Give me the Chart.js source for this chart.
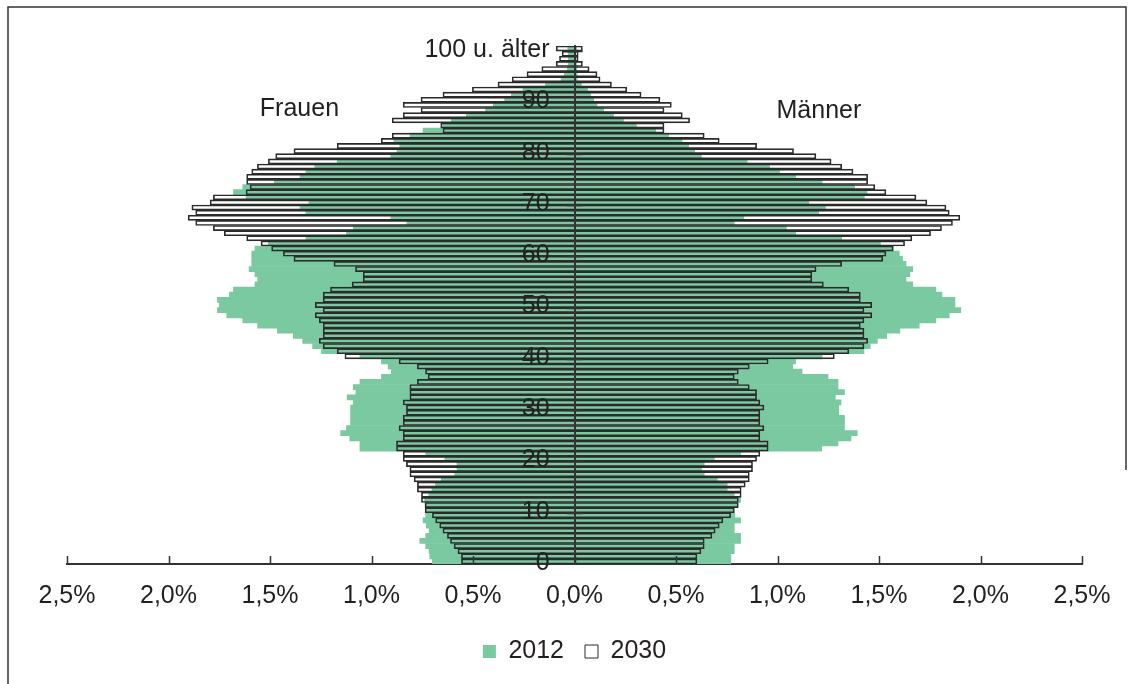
<!DOCTYPE html>
<html>
<head>
<meta charset="utf-8">
<script src="https://cdn.jsdelivr.net/npm/chart.js@4.4.1/dist/chart.umd.min.js"></script>
<style>
  html, body { margin: 0; padding: 0; background: #fff; }
  canvas { display: block; }
</style>
</head>
<body>
<canvas id="pyramid" width="1134" height="684"></canvas>
<script>
// age groups 0 .. 99 plus the open top group
var ageLabels = [];
for (var a = 0; a < 100; a++) ageLabels.push(String(a));
ageLabels.push('100 u. älter');

var xTicks = [-2.5, -2, -1.5, -1, -0.5, 0, 0.5, 1, 1.5, 2, 2.5];
var sideLabels = ['Frauen', 'Männer'];

// share of total population in %, index = age
var women2012 = [
  0.700, 0.713, 0.716, 0.733, 0.762, 0.733, 0.716, 0.730, 0.746, 0.733,
  0.730, 0.736, 0.738, 0.718, 0.702, 0.685, 0.656, 0.590, 0.579, 0.579,
  0.639, 0.733, 1.057, 1.057, 1.107, 1.152, 1.123, 1.103, 1.103, 1.103,
  1.103, 1.090, 1.120, 1.077, 1.090, 1.057, 0.951, 0.902, 0.918, 0.951,
  1.057, 1.246, 1.290, 1.339, 1.385, 1.464, 1.561, 1.634, 1.713, 1.759,
  1.750, 1.759, 1.700, 1.680, 1.574, 1.561, 1.574, 1.603, 1.590, 1.590,
  1.590, 1.574, 1.508, 1.323, 1.123, 1.090, 0.826, 0.905, 1.323, 1.352,
  1.308, 1.618, 1.680, 1.634, 1.479, 1.352, 1.323, 1.279, 1.169, 0.905,
  0.874, 0.861, 0.889, 0.811, 0.746, 0.650, 0.607, 0.533, 0.438, 0.400,
  0.344, 0.311, 0.254, 0.143, 0.066, 0.050, 0.035, 0.030, 0.030, 0.030,
  0.033
];
var women2030 = [
  0.557, 0.557, 0.574, 0.593, 0.611, 0.626, 0.648, 0.664, 0.684, 0.700,
  0.736, 0.736, 0.754, 0.754, 0.774, 0.774, 0.790, 0.811, 0.811, 0.828,
  0.844, 0.844, 0.877, 0.877, 0.844, 0.844, 0.864, 0.844, 0.844, 0.828,
  0.828, 0.844, 0.811, 0.811, 0.811, 0.774, 0.721, 0.734, 0.774, 0.864,
  1.131, 1.169, 1.238, 1.257, 1.238, 1.238, 1.238, 1.257, 1.277, 1.238,
  1.277, 1.238, 1.238, 1.202, 1.095, 1.041, 1.041, 1.079, 1.185, 1.382,
  1.434, 1.492, 1.544, 1.615, 1.725, 1.779, 1.866, 1.903, 1.866, 1.885,
  1.795, 1.779, 1.618, 1.598, 1.615, 1.615, 1.590, 1.562, 1.508, 1.472,
  1.382, 1.169, 0.952, 0.898, 0.648, 0.659, 0.898, 0.844, 0.756, 0.844,
  0.756, 0.648, 0.503, 0.377, 0.307, 0.234, 0.161, 0.090, 0.074, 0.061,
  0.090
];
var men2012 = [
  0.770, 0.770, 0.787, 0.787, 0.818, 0.818, 0.787, 0.787, 0.818, 0.790,
  0.787, 0.803, 0.818, 0.787, 0.752, 0.752, 0.703, 0.639, 0.626, 0.639,
  0.689, 0.818, 1.218, 1.298, 1.362, 1.393, 1.330, 1.330, 1.330, 1.302,
  1.302, 1.313, 1.285, 1.330, 1.298, 1.298, 1.249, 1.121, 1.075, 1.089,
  1.220, 1.426, 1.457, 1.492, 1.538, 1.603, 1.698, 1.780, 1.846, 1.903,
  1.874, 1.874, 1.810, 1.780, 1.666, 1.633, 1.652, 1.666, 1.633, 1.616,
  1.600, 1.570, 1.507, 1.316, 1.090, 1.044, 0.787, 0.834, 1.203, 1.236,
  1.154, 1.428, 1.441, 1.380, 1.220, 1.090, 1.010, 0.961, 0.851, 0.625,
  0.592, 0.562, 0.530, 0.464, 0.400, 0.305, 0.241, 0.192, 0.144, 0.111,
  0.095, 0.079, 0.064, 0.034, 0.013, 0.013, 0.012, 0.010, 0.008, 0.006,
  0.010
];
var men2030 = [
  0.603, 0.603, 0.623, 0.639, 0.639, 0.677, 0.693, 0.713, 0.731, 0.769,
  0.787, 0.807, 0.807, 0.821, 0.821, 0.841, 0.861, 0.861, 0.877, 0.877,
  0.897, 0.913, 0.954, 0.954, 0.913, 0.913, 0.933, 0.913, 0.913, 0.913,
  0.933, 0.913, 0.897, 0.897, 0.861, 0.807, 0.787, 0.807, 0.861, 0.954,
  1.280, 1.351, 1.426, 1.444, 1.426, 1.426, 1.408, 1.426, 1.464, 1.426,
  1.464, 1.408, 1.408, 1.351, 1.226, 1.169, 1.169, 1.190, 1.316, 1.518,
  1.534, 1.570, 1.626, 1.662, 1.754, 1.808, 1.862, 1.898, 1.846, 1.830,
  1.736, 1.682, 1.534, 1.479, 1.444, 1.444, 1.372, 1.316, 1.264, 1.189,
  1.079, 0.897, 0.713, 0.639, 0.441, 0.441, 0.567, 0.531, 0.441, 0.477,
  0.421, 0.328, 0.257, 0.182, 0.126, 0.111, 0.072, 0.039, 0.018, 0.018,
  0.039
];

var green = '#7ac9a1';
var ink = '#231f20';
var fontFamily = '"Liberation Sans", Arial, Helvetica, sans-serif';

Chart.defaults.font.family = fontFamily;
Chart.defaults.font.size = 25;
Chart.defaults.color = ink;

// tick marks, side captions and the frame
var extras = {
    id: 'extras',
    afterDraw: function(chart) {
        var ctx = chart.ctx;
        var xs = chart.scales.x;
        var ys = chart.scales.y;
        var area = chart.chartArea;
        ctx.save();
        ctx.strokeStyle = '#333';
        ctx.lineWidth = 1.5;
        ctx.beginPath();
        // x ticks point up into the plot
        xs.ticks.forEach(function(t) {
            var px = Math.round(xs.getPixelForValue(t.value)) + 0.5;
            ctx.moveTo(px, area.bottom);
            ctx.lineTo(px, area.bottom - 8);
        });
        // age ticks cross the centre axis at the lower edge of each labelled row
        var x0 = xs.getPixelForValue(0);
        var half = (ys.getPixelForValue(0) - ys.getPixelForValue(1)) / 2;
        for (var i = 10; i < ageLabels.length; i += 10) {
            var py = Math.round(ys.getPixelForValue(i) + half) + 0.5;
            ctx.moveTo(x0 - 8, py);
            ctx.lineTo(x0 + 8, py);
        }
        ctx.stroke();

        ctx.fillStyle = ink;
        ctx.font = '25px ' + fontFamily;
        ctx.textAlign = 'center';
        ctx.textBaseline = 'middle';
        ctx.fillText(sideLabels[0], xs.getPixelForValue(-1.355), ys.getPixelForValue(88.2));
        ctx.fillText(sideLabels[1], xs.getPixelForValue(1.204), ys.getPixelForValue(87.8));

        // outer frame
        ctx.lineWidth = 1.5;
        ctx.beginPath();
        ctx.moveTo(8, chart.height);
        ctx.lineTo(8, 7);
        ctx.lineTo(1126, 7);
        ctx.lineTo(1126, 470);
        ctx.stroke();
        ctx.restore();
    }
};

var ctx = document.getElementById('pyramid').getContext('2d');

var pyramid = new Chart(ctx, {
    type: 'bar',
    data: {
        labels: ageLabels,
        datasets: [
            {
                label: '2012',
                data: women2012.map(function(v) { return -v; }),
                backgroundColor: green,
                borderWidth: 0,
                order: 2
            },
            {
                label: '2012',
                data: men2012,
                backgroundColor: green,
                borderWidth: 0,
                order: 2
            },
            {
                label: '2030',
                data: women2030.map(function(v) { return -v; }),
                backgroundColor: 'rgba(255,255,255,0)',
                borderColor: '#2b2b2b',
                borderWidth: 1,
                order: 1
            },
            {
                label: '2030',
                data: men2030,
                backgroundColor: 'rgba(255,255,255,0)',
                borderColor: '#2b2b2b',
                borderWidth: 1,
                order: 1
            }
        ]
    },
    options: {
        indexAxis: 'y',
        responsive: false,
        animation: false,
        datasets: {
            bar: {
                grouped: false,
                barPercentage: 1,
                categoryPercentage: 1
            }
        },
        layout: {
            padding: { left: 67, right: 52, top: 46, bottom: 10 }
        },
        scales: {
            x: {
                type: 'linear',
                min: -2.5,
                max: 2.5,
                afterBuildTicks: function(scale) {
                    scale.ticks = xTicks.map(function(v) { return { value: v }; });
                },
                afterFit: function(scale) {
                    scale.height -= 10;
                },
                ticks: {
                    padding: 17,
                    color: ink,
                    callback: function(value) {
                        return Math.abs(value).toFixed(1).replace('.', ',') + '%';
                    }
                },
                grid: { display: true, drawOnChartArea: false, drawTicks: false },
                border: { display: true, color: '#333', width: 2 }
            },
            // centre axis line
            y: {
                type: 'category',
                reverse: true,
                position: { x: 0 },
                ticks: { display: false },
                grid: { display: true, drawOnChartArea: false, drawTicks: false },
                border: { display: true, color: '#333', width: 2, z: 1 }
            },
            // age labels, set just left of the centre line
            yl: {
                type: 'category',
                axis: 'y',
                reverse: true,
                offset: true,
                position: { x: -0.123 },
                ticks: {
                    autoSkip: false,
                    labelOffset: 1.5,
                    color: ink,
                    z: 1,
                    callback: function(value, index) {
                        return index % 10 === 0 ? this.getLabelForValue(value) : '';
                    }
                },
                grid: { display: false },
                border: { display: false }
            }
        },
        plugins: {
            tooltip: { enabled: false },
            legend: {
                position: 'bottom',
                labels: {
                    boxWidth: 13,
                    boxHeight: 13,
                    padding: 21,
                    color: ink,
                    font: { size: 25 },
                    filter: function(item) {
                        return item.datasetIndex % 2 === 0;
                    },
                    sort: function(a, b) {
                        return a.datasetIndex - b.datasetIndex;
                    }
                }
            }
        }
    },
    plugins: [extras]
});
</script>
</body>
</html>
